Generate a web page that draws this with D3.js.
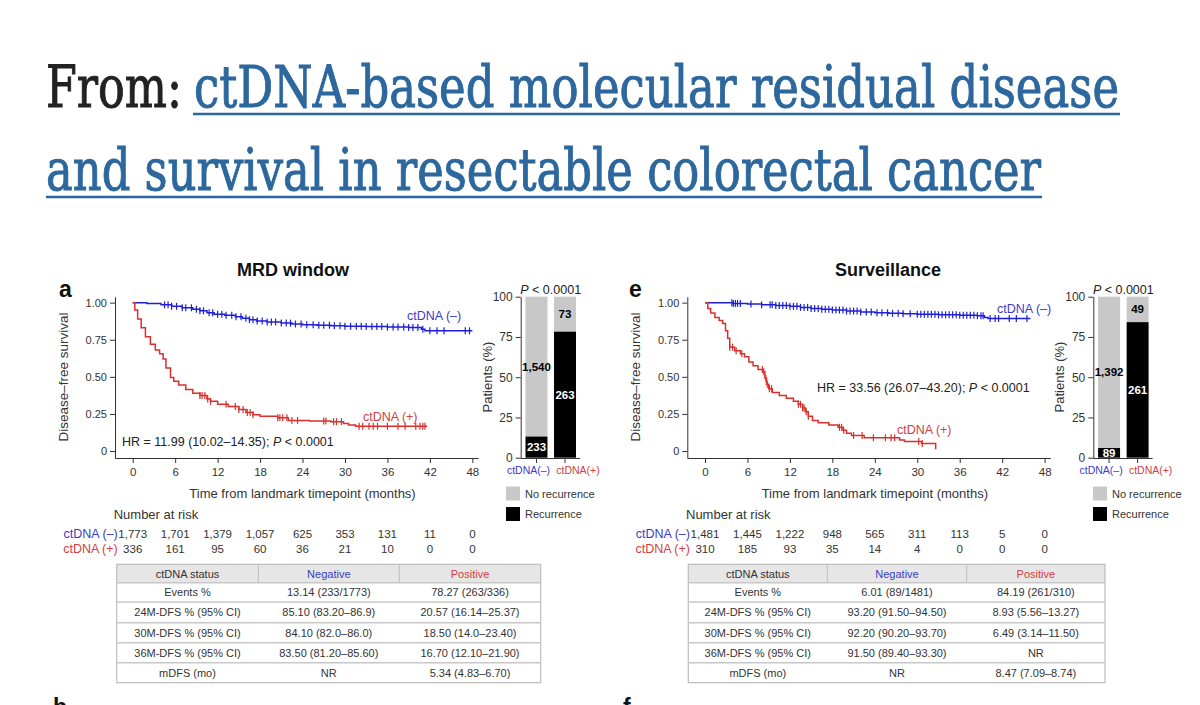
<!DOCTYPE html>
<html>
<head>
<meta charset="utf-8">
<script src="https://cdn.jsdelivr.net/npm/d3@7"></script>
<style>
  body { margin: 0; background: #fff; }
  text { font-family: "Liberation Sans", Arial, sans-serif; }
</style>
</head>
<body>
<svg id="fig" width="1200" height="705"></svg>
<script>
// ---- data ----
const titleFrom = "From:";
const titleLine1 = "ctDNA-based molecular residual disease";
const titleLine2 = "and survival in resectable colorectal cancer";

const groups = ["ctDNA(-)", "ctDNA(+)"];
const riskTimes = [0, 6, 12, 18, 24, 30, 36, 42, 48];
const tableHeader = ["ctDNA status", "Negative", "Positive"];

// MRD window
const mrdNegTimes = [0, 2, 4, 5.5, 7, 8.5, 9.5, 10.5, 11.5, 13, 14.5, 15.5, 16.5, 17.5, 19, 21, 22.5, 24, 26, 28, 30, 33, 36, 39, 40.8, 41.3];
const mrdNegSurv  = [1, 0.995, 0.985, 0.975, 0.965, 0.955, 0.945, 0.932, 0.922, 0.915, 0.905, 0.895, 0.885, 0.876, 0.87, 0.862, 0.856, 0.851, 0.848, 0.845, 0.841, 0.839, 0.835, 0.833, 0.82, 0.81];
const mrdNegEnd = 48;
const mrdNegCens = [4.5, 5, 5.5, 6.2, 7, 7.5, 8.3, 9, 9.5, 10, 10.8, 11.3, 12, 12.6, 13.2, 14, 14.6, 15.3, 16, 16.5, 17, 17.6, 18.3, 19, 19.6, 20.2, 21, 21.7, 22.3, 23, 23.8, 24.6, 25.5, 26.3, 27, 27.8, 28.5, 29.3, 30, 30.8, 31.6, 32.3, 33, 33.8, 34.5, 35.2, 36, 36.8, 37.5, 38.3, 39, 39.6, 40.3, 41, 42, 43, 44, 47, 47.6];
const mrdPosTimes = [0, 0.3, 0.7, 1.2, 1.8, 2.5, 3.2, 3.8, 4.3, 4.7, 5.34, 5.8, 6.5, 7.5, 8.5, 9.5, 10.5, 11, 12, 13.5, 15, 16, 17, 18, 20.5, 22, 25, 28, 29.8, 30.5, 31.5];
const mrdPosSurv  = [1, 0.95, 0.89, 0.83, 0.77, 0.72, 0.68, 0.655, 0.62, 0.56, 0.495, 0.47, 0.445, 0.415, 0.39, 0.375, 0.35, 0.335, 0.315, 0.3, 0.28, 0.26, 0.245, 0.235, 0.225, 0.206, 0.203, 0.198, 0.185, 0.175, 0.167];
const mrdPosEnd = 41.6;
const mrdPosCens = [9.5, 9.8, 10.2, 10.6, 11, 13.2, 14.5, 15, 15.6, 16.2, 16.6, 17, 20.5, 20.8, 21.2, 21.8, 22.5, 23.3, 27, 27.3, 28.4, 28.8, 29.5, 32, 32.5, 33.4, 34, 34.6, 36, 37.5, 38.5, 40, 40.6, 41, 41.3];
const mrdRiskNeg = ["1,773", "1,701", "1,379", "1,057", "625", "353", "131", "11", "0"];
const mrdRiskPos = ["336", "161", "95", "60", "36", "21", "10", "0", "0"];
const mrdRecurrence = [233, 263];
const mrdNoRecurrence = [1540, 73];
const mrdRows = [
  ["Events %", "13.14 (233/1773)", "78.27 (263/336)"],
  ["24M-DFS % (95% CI)", "85.10 (83.20–86.9)", "20.57 (16.14–25.37)"],
  ["30M-DFS % (95% CI)", "84.10 (82.0–86.0)", "18.50 (14.0–23.40)"],
  ["36M-DFS % (95% CI)", "83.50 (81.20–85.60)", "16.70 (12.10–21.90)"],
  ["mDFS (mo)", "NR", "5.34 (4.83–6.70)"]
];

// Surveillance
const survNegTimes = [0, 4, 6, 8, 10, 12, 13.5, 15, 16.5, 18, 20, 22, 24, 26, 28, 30, 33, 36, 38.5, 39.5, 40];
const survNegSurv  = [1, 0.995, 0.99, 0.985, 0.98, 0.975, 0.968, 0.96, 0.955, 0.95, 0.943, 0.937, 0.932, 0.928, 0.925, 0.922, 0.918, 0.915, 0.912, 0.9, 0.893];
const survNegEnd = 46;
const survNegCens = [3.8, 4, 4.3, 4.6, 5, 6.5, 8, 9.2, 9.5, 10, 10.5, 11, 11.5, 12, 12.5, 13, 13.5, 14, 14.5, 15, 15.5, 16, 16.5, 17, 17.5, 18, 18.5, 19, 19.5, 20, 20.5, 21, 21.5, 22, 22.8, 23.5, 24.3, 25, 25.8, 26.5, 27.3, 28, 29, 30, 30.5, 31, 31.5, 32, 32.5, 33, 33.5, 34, 34.5, 35, 35.5, 36, 36.5, 37, 37.5, 38, 38.5, 39, 39.3, 40.3, 41, 41.5, 43, 44, 45.5];
const survPosTimes = [0, 0.4, 0.8, 1.4, 2, 2.5, 2.9, 3.2, 3.5, 4.2, 5, 5.6, 6.2, 6.8, 7.5, 8.2, 8.47, 8.7, 9, 9.5, 10.5, 11.5, 12.5, 13.2, 13.8, 14.2, 14.6, 15.2, 16, 17.5, 18.8, 19.5, 20, 20.7, 22.5, 27.5, 28.2, 30.6, 32.6];
const survPosSurv  = [1, 0.96, 0.93, 0.9, 0.88, 0.86, 0.81, 0.76, 0.7, 0.675, 0.655, 0.635, 0.6, 0.575, 0.55, 0.535, 0.49, 0.45, 0.42, 0.395, 0.375, 0.355, 0.335, 0.315, 0.29, 0.265, 0.235, 0.205, 0.19, 0.175, 0.16, 0.14, 0.12, 0.105, 0.0893, 0.075, 0.0649, 0.05, 0.012];
const survPosEnd = 32.6;
const survPosCens = [3.5, 3.9, 4.4, 5.2, 8.1, 8.3, 8.6, 8.8, 9.1, 9.4, 13.2, 13.5, 13.8, 14, 14.3, 14.6, 19, 19.3, 19.6, 21, 22.2, 23.8, 25.5, 26.3, 26.8, 30.2, 30.7];
const survRiskNeg = ["1,481", "1,445", "1,222", "948", "565", "311", "113", "5", "0"];
const survRiskPos = ["310", "185", "93", "35", "14", "4", "0", "0", "0"];
const survRecurrence = [89, 261];
const survNoRecurrence = [1392, 49];
const survRows = [
  ["Events %", "6.01 (89/1481)", "84.19 (261/310)"],
  ["24M-DFS % (95% CI)", "93.20 (91.50–94.50)", "8.93 (5.56–13.27)"],
  ["30M-DFS % (95% CI)", "92.20 (90.20–93.70)", "6.49 (3.14–11.50)"],
  ["36M-DFS % (95% CI)", "91.50 (89.40–93.30)", "NR"],
  ["mDFS (mo)", "NR", "8.47 (7.09–8.74)"]
];

// ---- colours ----
const blue = "#1f1fd8", red = "#d8302c";
const blueText = "#3b3bc8", redText = "#d2403e";
const grey = "#c8c8c8", ink = "#333";

const svg = d3.select("#fig");

// ---- page title ----
const serif = '"DejaVu Serif", "Liberation Serif", serif';
const link = "#2c679d";
function titleText(x, y, len, color, str) {
  svg.append("text").attr("x", x).attr("y", y).attr("font-size", 58)
    .style("font-family", serif).attr("fill", color)
    .attr("stroke", color).attr("stroke-width", 1)
    .attr("textLength", len).attr("lengthAdjust", "spacingAndGlyphs").text(str);
}
titleText(46, 107, 136, "#222", titleFrom);
titleText(194, 107, 925, link, titleLine1);
titleText(46, 190, 995, link, titleLine2);
svg.append("line").attr("x1", 193).attr("x2", 1120).attr("y1", 114).attr("y2", 114)
  .attr("stroke", link).attr("stroke-width", 2.5);
svg.append("line").attr("x1", 46).attr("x2", 1042).attr("y1", 197).attr("y2", 197)
  .attr("stroke", link).attr("stroke-width", 2.5);

// ---- helpers ----
function styleAxis(a) {
  a.selectAll("path, line").attr("stroke", ink).attr("stroke-width", 1);
  a.selectAll("text").attr("fill", ink).attr("font-size", 11);
}

function drawKM(g, x, y, times, surv, end, cens, color) {
  const pts = times.map((t, i) => [t, surv[i]]);
  pts.push([end, surv[surv.length - 1]]);
  const line = d3.line().x(d => x(d[0])).y(d => y(d[1])).curve(d3.curveStepAfter);
  g.append("path").attr("d", line(pts)).attr("fill", "none")
    .attr("stroke", color).attr("stroke-width", 1.5);
  const at = t => surv[d3.bisectRight(times, t) - 1];
  g.selectAll(null).data(cens).enter().append("line")
    .attr("x1", d => x(d)).attr("x2", d => x(d))
    .attr("y1", d => y(at(d)) - 3.5).attr("y2", d => y(at(d)) + 3.5)
    .attr("stroke", color).attr("stroke-width", 1.2);
}

function drawPanel(p) {
  const g = svg.append("g");

  // title + letter
  g.append("text").attr("x", p.titleX).attr("y", 276).attr("text-anchor", "middle")
    .attr("font-size", 18).attr("font-weight", "bold").attr("fill", "#111").text(p.title);
  g.append("text").attr("x", p.letterX).attr("y", 297).attr("font-size", 23)
    .attr("font-weight", "bold").attr("fill", "#111").text(p.letter);

  // KM scales
  const x = d3.scaleLinear().domain([-2.5, 48.8]).range([p.x0 - 17.7, p.x0 + 345.3]);
  const y = d3.scaleLinear().domain([-0.047, 1.04]).range([458, 296.7]);

  const ya = g.append("g").attr("transform", `translate(${p.x0 - 17.7},0)`)
    .call(d3.axisLeft(y).tickValues([0, 0.25, 0.5, 0.75, 1])
      .tickFormat(d => d === 0 ? "0" : d3.format(".2f")(d)).tickSize(5).tickSizeOuter(0));
  styleAxis(ya);
  const xa = g.append("g").attr("transform", "translate(0,458)")
    .call(d3.axisBottom(x).tickValues(riskTimes).tickSize(5).tickPadding(5).tickSizeOuter(0));
  styleAxis(xa);
  xa.selectAll("text").attr("font-size", 11.5);

  g.append("text").attr("transform", `translate(${p.x0 - 65},377) rotate(-90)`)
    .attr("text-anchor", "middle").attr("font-size", 13.5).attr("fill", ink)
    .text("Disease–free survival");
  g.append("text").attr("x", x(24)).attr("y", 498).attr("text-anchor", "middle")
    .attr("font-size", 13).attr("fill", ink).text("Time from landmark timepoint (months)");

  drawKM(g, x, y, p.negTimes, p.negSurv, p.negEnd, p.negCens, blue);
  drawKM(g, x, y, p.posTimes, p.posSurv, p.posEnd, p.posCens, red);

  g.append("text").attr("x", p.negLab[0]).attr("y", p.negLab[1]).attr("font-size", 12.5)
    .attr("fill", blueText).text("ctDNA (–)");
  g.append("text").attr("x", p.posLab[0]).attr("y", p.posLab[1]).attr("font-size", 12.5)
    .attr("fill", redText).text("ctDNA (+)");
  const hr = g.append("text").attr("x", p.hrPos[0]).attr("y", p.hrPos[1])
    .attr("font-size", 12.5).attr("fill", "#222");
  hr.append("tspan").text(p.hr + " ");
  hr.append("tspan").attr("font-style", "italic").text("P");
  hr.append("tspan").text(" < 0.0001");

  // number at risk
  g.append("text").attr("x", p.x0 - 19).attr("y", 519).attr("font-size", 13)
    .attr("fill", ink).text("Number at risk");
  g.append("text").attr("x", p.x0 - 15).attr("y", 538).attr("text-anchor", "end")
    .attr("font-size", 12.5).attr("fill", blueText).text("ctDNA (–)");
  g.append("text").attr("x", p.x0 - 15).attr("y", 553).attr("text-anchor", "end")
    .attr("font-size", 12.5).attr("fill", redText).text("ctDNA (+)");
  [[p.riskNeg, 538], [p.riskPos, 553]].forEach(([vals, yy]) => {
    g.selectAll(null).data(vals).enter().append("text")
      .attr("x", (d, i) => x(riskTimes[i])).attr("y", yy).attr("text-anchor", "middle")
      .attr("font-size", 11.5).attr("fill", ink).text(d => d);
  });

  // stacked percentage bars
  const by = d3.scaleLinear().domain([0, 100]).range([457.7, 296.7]);
  const bx = d3.scaleBand().domain(groups).range([p.bx0 + 0.8, p.bx0 + 59.3])
    .paddingInner(0.23).paddingOuter(0.14);
  const bars = groups.map((k, i) => {
    const n = p.rec[i] + p.norec[i];
    return { k, rec: p.rec[i], norec: p.norec[i], pr: 100 * p.rec[i] / n };
  });
  g.selectAll(null).data(bars).enter().append("rect")
    .attr("x", d => bx(d.k)).attr("width", bx.bandwidth())
    .attr("y", by(100)).attr("height", d => by(d.pr) - by(100)).attr("fill", grey);
  g.selectAll(null).data(bars).enter().append("rect")
    .attr("x", d => bx(d.k)).attr("width", bx.bandwidth())
    .attr("y", d => by(d.pr)).attr("height", d => by(0) - by(d.pr)).attr("fill", "#000");
  g.selectAll(null).data(bars).enter().append("text")
    .attr("x", d => bx(d.k) + bx.bandwidth() / 2).attr("y", d => by(d.pr / 2) + 4)
    .attr("text-anchor", "middle").attr("font-size", 11.5).attr("font-weight", "bold")
    .attr("fill", "#fff").text(d => d3.format(",")(d.rec));
  g.selectAll(null).data(bars).enter().append("text")
    .attr("x", d => bx(d.k) + bx.bandwidth() / 2).attr("y", d => by((100 + d.pr) / 2) + 4)
    .attr("text-anchor", "middle").attr("font-size", 11.5).attr("font-weight", "bold")
    .attr("fill", "#000").text(d => d3.format(",")(d.norec));

  const bya = g.append("g").attr("transform", `translate(${p.bx0},0)`)
    .call(d3.axisLeft(by).tickValues([0, 25, 50, 75, 100]).tickSize(5).tickPadding(3).tickSizeOuter(0));
  styleAxis(bya);
  bya.selectAll("text").attr("font-size", 12);
  const bxa = g.append("g").attr("transform", "translate(0,458)")
    .call(d3.axisBottom(bx).tickSize(5).tickPadding(4).tickSizeOuter(0));
  styleAxis(bxa);
  bxa.select(".domain").attr("d", `M${p.bx0},0.5H${p.bx0 + 59.3}`);
  bxa.selectAll("text").attr("font-size", 10.5)
    .attr("fill", (d, i) => i === 0 ? blueText : redText)
    .attr("dx", (d, i) => i === 0 ? -8 : 13)
    .text(d => d.replace("-", "–"));

  g.append("text").attr("transform", `translate(${p.bx0 - 29},377) rotate(-90)`)
    .attr("text-anchor", "middle").attr("font-size", 13).attr("fill", ink).text("Patients (%)");
  const pv = g.append("text").attr("x", p.bx0 + 30).attr("y", 294)
    .attr("text-anchor", "middle").attr("font-size", 12.5).attr("fill", "#222");
  pv.append("tspan").attr("font-style", "italic").text("P");
  pv.append("tspan").text(" < 0.0001");

  // legend
  [["No recurrence", grey, 486.5], ["Recurrence", "#000", 507]].forEach(([lab, c, yy]) => {
    g.append("rect").attr("x", p.legX).attr("y", yy).attr("width", 14).attr("height", 14).attr("fill", c);
    g.append("text").attr("x", p.legX + 19).attr("y", yy + 11).attr("font-size", 11)
      .attr("fill", ink).text(lab);
  });

  // summary table
  const cols = p.cols;
  const rowY = [564.3, 582.7, 602, 622.7, 642.7, 662.7, 682.7];
  g.append("rect").attr("x", cols[0]).attr("y", rowY[0])
    .attr("width", cols[3] - cols[0]).attr("height", rowY[1] - rowY[0]).attr("fill", "#e6e6e6");
  g.append("rect").attr("x", cols[0]).attr("y", rowY[0])
    .attr("width", cols[3] - cols[0]).attr("height", rowY[6] - rowY[0])
    .attr("fill", "none").attr("stroke", "#bdbdbd").attr("stroke-width", 1.2);
  rowY.slice(1, 6).forEach(yy => {
    g.append("line").attr("x1", cols[0]).attr("x2", cols[3]).attr("y1", yy).attr("y2", yy)
      .attr("stroke", "#c8c8c8").attr("stroke-width", 1.6);
  });
  g.append("line").attr("x1", cols[1]).attr("x2", cols[1]).attr("y1", rowY[0]).attr("y2", rowY[1])
    .attr("stroke", "#bdbdbd");
  g.append("line").attr("x1", cols[2]).attr("x2", cols[2]).attr("y1", rowY[0]).attr("y2", rowY[1])
    .attr("stroke", "#bdbdbd");
  const cellX = i => (cols[i] + cols[i + 1]) / 2;
  const hdrColor = [ink, blueText, redText];
  tableHeader.forEach((h, i) => {
    g.append("text").attr("x", cellX(i)).attr("y", (rowY[0] + rowY[1]) / 2 + 4)
      .attr("text-anchor", "middle").attr("font-size", 11).attr("fill", hdrColor[i]).text(h);
  });
  p.rows.forEach((r, j) => {
    r.forEach((c, i) => {
      g.append("text").attr("x", cellX(i)).attr("y", (rowY[j + 1] + rowY[j + 2]) / 2 + 4)
        .attr("text-anchor", "middle").attr("font-size", 11).attr("fill", ink).text(c);
    });
  });

  // next panel letter, cut by the bottom edge
  g.append("text").attr("x", p.letterX - 6).attr("y", 715).attr("font-size", 23)
    .attr("font-weight", "bold").attr("fill", "#111").text(p.nextLetter);
}

drawPanel({
  title: "MRD window", titleX: 293, letter: "a", letterX: 59, nextLetter: "b",
  x0: 132.7, bx0: 520.7, legX: 506,
  negTimes: mrdNegTimes, negSurv: mrdNegSurv, negEnd: mrdNegEnd, negCens: mrdNegCens,
  posTimes: mrdPosTimes, posSurv: mrdPosSurv, posEnd: mrdPosEnd, posCens: mrdPosCens,
  negLab: [407, 320], posLab: [363, 421], hrPos: [122, 446],
  hr: "HR = 11.99 (10.02–14.35);",
  riskNeg: mrdRiskNeg, riskPos: mrdRiskPos,
  rec: mrdRecurrence, norec: mrdNoRecurrence,
  cols: [116.7, 258.3, 399.3, 540.7], rows: mrdRows
});

drawPanel({
  title: "Surveillance", titleX: 888, letter: "e", letterX: 629, nextLetter: "f",
  x0: 705, bx0: 1093.3, legX: 1093,
  negTimes: survNegTimes, negSurv: survNegSurv, negEnd: survNegEnd, negCens: survNegCens,
  posTimes: survPosTimes, posSurv: survPosSurv, posEnd: survPosEnd, posCens: survPosCens,
  negLab: [997, 313], posLab: [897, 434], hrPos: [817, 392],
  hr: "HR = 33.56 (26.07–43.20);",
  riskNeg: survRiskNeg, riskPos: survRiskPos,
  rec: survRecurrence, norec: survNoRecurrence,
  cols: [688.3, 827.3, 966.7, 1105], rows: survRows
});
</script>
</body>
</html>
